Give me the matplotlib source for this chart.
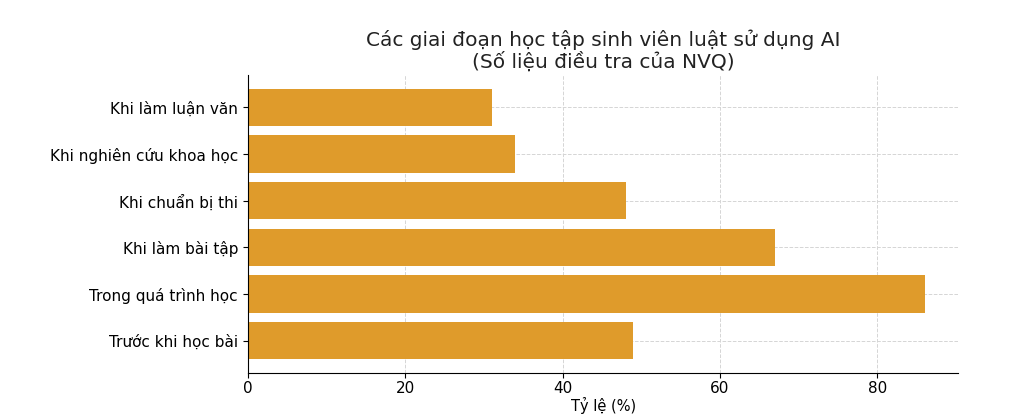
import matplotlib.pyplot as plt

categories = ["Trước khi học bài", "Trong quá trình học", "Khi làm bài tập",
              "Khi chuẩn bị thi", "Khi nghiên cứu khoa học", "Khi làm luận văn"]
values = [49, 86, 67, 48, 34, 31]

BAR_COLOR = "#DF9B2B"

fig = plt.figure(figsize=(10.24, 4.2), dpi=100)
ax = fig.add_axes([0.242, 0.112, 0.694, 0.709])

ax.barh(categories, values, color=BAR_COLOR, height=0.8, zorder=2)

ax.set_title("Các giai đoạn học tập sinh viên luật sử dụng AI\n(Số liệu điều tra của NVQ)",
             fontsize=14.5, pad=5, color="#222222", linespacing=1.1)
ax.set_xlabel("Tỷ lệ (%)", fontsize=10.5, labelpad=1)
ax.tick_params(labelsize=11)
ax.tick_params(axis="x", pad=2)
ax.set_xticks([0, 20, 40, 60, 80])

ax.grid(True, linestyle="--", color="#d5d5d5", linewidth=0.7, zorder=0)
ax.set_axisbelow(True)
ax.spines["top"].set_visible(False)
ax.spines["right"].set_visible(False)

fig.savefig("out.png", dpi=100, facecolor="white")
